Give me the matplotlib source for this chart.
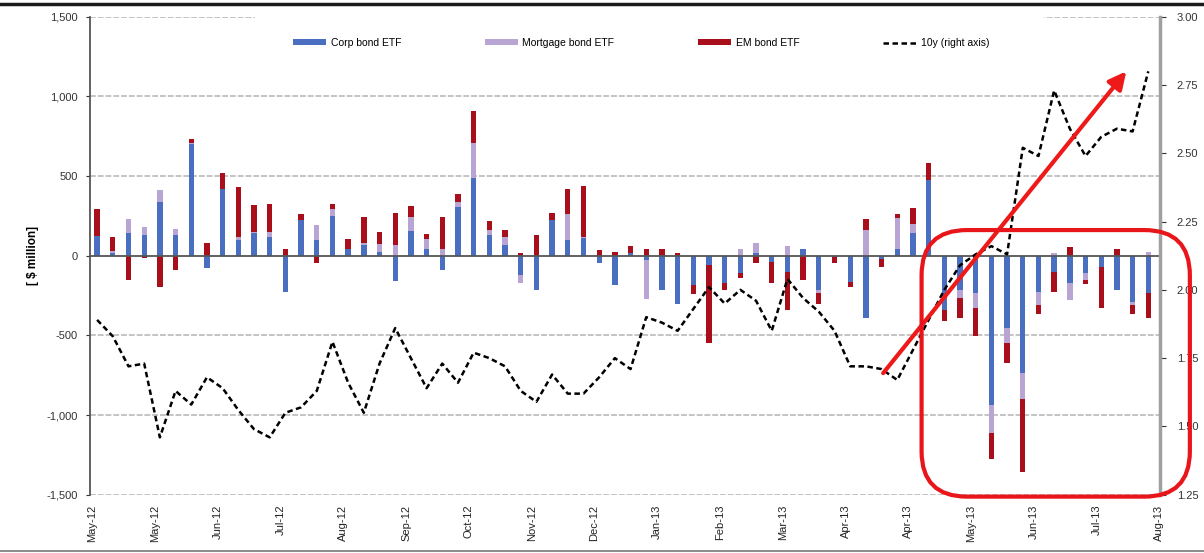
import numpy as np
import matplotlib
matplotlib.use("Agg")
from matplotlib import pyplot as plt
from matplotlib.patches import FancyBboxPatch, Rectangle
from matplotlib.lines import Line2D

plt.rcParams['font.family'] = ['Liberation Sans', 'DejaVu Sans']

# weekly flows, $ million (May-12 .. Aug-13)
corp = [125, 20, 145, 130, 340, 130, 700, -80, 420, 100, 140, 120,
        -225, 225, 100, 250, 45, 65, 25, -160, 155, 40, -90, 305,
        490, 130, 65, -120, -215, 225, 100, 110, -45, -185, 20, -30,
        -215, -300, -185, -60, -170, -110, 20, -40, -100, 40, -215, -5,
        -165, -390, -20, 40, 140, 475, -340, -215, -235, -935, -455, -735,
        -225, -105, -170, -110, -70, -215, -290, -235]
mortgage = [0, 10, 85, 50, 75, 40, 5, 0, 0, 20, 10, 30,
            0, 0, 90, 45, 0, 15, 50, 65, 90, 65, 40, 30,
            220, 30, 50, -50, 0, 0, 160, 5, 0, 0, 0, -240,
            0, 0, 0, 0, 0, 45, 60, 0, 60, 0, -20, 0,
            0, 160, 0, 195, 60, 0, 0, -50, -95, -175, -95, -165,
            -85, 15, -105, -40, 0, 0, -20, 25]
em = [165, 90, -150, -15, -195, -90, 30, 80, 100, 310, 170, 175,
      45, 35, -45, 30, 60, 165, 75, 200, 70, 30, 200, 55,
      200, 55, 45, 20, 130, 45, 160, 320, 35, 25, 40, 40,
      45, 15, -55, -490, -45, -30, -45, -130, -240, -150, -65, -40,
      -30, 70, -50, 25, 100, 105, -70, -125, -175, -165, -125, -460,
      -55, -120, 55, -25, -260, 40, -55, -155]
# 10y treasury yield, %
y10 = [1.89, 1.83, 1.72, 1.73, 1.46, 1.63, 1.58, 1.68, 1.64, 1.56, 1.49, 1.46,
       1.55, 1.57, 1.63, 1.81, 1.66, 1.55, 1.73, 1.86, 1.75, 1.64, 1.73, 1.66,
       1.77, 1.75, 1.72, 1.63, 1.59, 1.69, 1.62, 1.62, 1.68, 1.75, 1.71, 1.90,
       1.88, 1.85, 1.93, 2.01, 1.95, 2.00, 1.96, 1.85, 2.04, 1.97, 1.92, 1.85,
       1.72, 1.72, 1.71, 1.67, 1.78, 1.89, 2.00, 2.09, 2.13, 2.16, 2.13, 2.52,
       2.49, 2.73, 2.59, 2.49, 2.56, 2.59, 2.58, 2.80]
month_labels = ['May-12', 'May-12', 'Jun-12', 'Jul-12', 'Aug-12', 'Sep-12', 'Oct-12',
                'Nov-12', 'Dec-12', 'Jan-13', 'Feb-13', 'Mar-13', 'Apr-13', 'Apr-13',
                'May-13', 'Jun-13', 'Jul-13', 'Aug-13']

series = [("Corp bond ETF", corp, '#4A6FC0'),
          ("Mortgage bond ETF", mortgage, '#B9A5D4'),
          ("EM bond ETF", em, '#A80F1A')]

x = np.arange(len(corp))

fig = plt.figure(figsize=(12.04, 5.53), dpi=100)
ax = fig.add_axes([0.0748, 0.1054, 0.8887, 0.8644])

# gridlines
for g in [1500, 1000, 500, -500, -1000, -1500]:
    ax.axhline(g, color='#C4C4C4', lw=1.4, ls=(0, (3, 1)), zorder=0)
# white strip behind the legend hides part of the top gridline
ax.add_patch(Rectangle((0.154, 0.9), 0.738, 0.12, transform=ax.transAxes,
                       facecolor='white', edgecolor='none', zorder=1, clip_on=False))

pos_base = np.zeros(len(x))
neg_base = np.zeros(len(x))
for name, vals, col in series:
    v = np.array(vals, dtype=float)
    bottom = np.where(v >= 0, pos_base, neg_base)
    ax.bar(x, v, width=0.34, bottom=bottom, color=col, label=name, zorder=2, linewidth=0)
    pos_base = pos_base + np.clip(v, 0, None)
    neg_base = neg_base + np.clip(v, None, 0)

ax.axhline(0, color='#555555', lw=1.3, zorder=3)

ax.set_xlim(-0.45, 67.75)
ax.set_ylim(-1500, 1500)
ax.set_yticks([-1500, -1000, -500, 0, 500, 1000, 1500])
ax.set_yticklabels(['-1,500', '-1,000', '-500', '0', '500', '1,000', '1,500'])
ax.set_xticks(np.arange(len(month_labels)) * 4 - 0.3)
ax.set_xticklabels(month_labels, rotation=90)
ax.tick_params(axis='x', length=0, pad=7, labelsize=8, colors='#222222')
ax.tick_params(axis='y', length=3, pad=6, labelsize=8, colors='#333333')
for s in ['top', 'right', 'bottom']:
    ax.spines[s].set_visible(False)
ax.spines['left'].set_color('#555555')
ax.spines['left'].set_linewidth(1.3)
ax.set_ylabel('[ $ million]', fontsize=8.5, fontweight='bold', labelpad=5)

ax2 = ax.twinx()
ax2.plot(x, y10, color='black', lw=1.8, ls=(0, (2.2, 1.4)), label='10y (right axis)')
ax2.set_ylim(1.25, 3.0)
ax2.set_yticks([1.25, 1.5, 1.75, 2.0, 2.25, 2.5, 2.75, 3.0])
ax2.set_yticklabels(['1.25', '1.50', '1.75', '2.00', '2.25', '2.50', '2.75', '3.00'])
ax2.tick_params(axis='y', length=4, pad=8, labelsize=8, colors='#333333')
for s in ['top', 'left', 'bottom']:
    ax2.spines[s].set_visible(False)
ax2.spines['right'].set_color('#A0A0A0')
ax2.spines['right'].set_linewidth(2.5)

h1, l1 = ax.get_legend_handles_labels()
h2, l2 = ax2.get_legend_handles_labels()
leg = ax2.legend(h1 + h2, l1 + l2, loc='center', ncol=4, mode='expand',
                 bbox_to_anchor=(0.18, 0.925, 0.67, 0.04), fontsize=7.5,
                 frameon=False, borderpad=0.5, handlelength=3.2,
                 handleheight=0.55, handletextpad=0.4, columnspacing=3)

# red highlight annotations
ax2.annotate('', xy=(65.6, 2.80), xytext=(50.1, 1.695),
             arrowprops=dict(arrowstyle='-|>', color='#EE1A1A', lw=3, mutation_scale=26,
                             shrinkA=0, shrinkB=0), zorder=6)
box = FancyBboxPatch((52.55, -1512), 17.1, 1673,
                     boxstyle='round,pad=0,rounding_size=2.9', mutation_aspect=98,
                     transform=ax.transData, fill=False, edgecolor='#E8161B', lw=3,
                     clip_on=False, zorder=7)
ax2.add_patch(box)
box.set_transform(ax.transData)

# page rules above and below
fig.add_artist(Line2D([0.0, 1.0], [0.992, 0.992], color='#1A1A1A', lw=2.5))
fig.add_artist(Line2D([0.0, 1.0], [0.004, 0.004], color='#777777', lw=1.2))

fig.savefig('out.png', dpi=100)
